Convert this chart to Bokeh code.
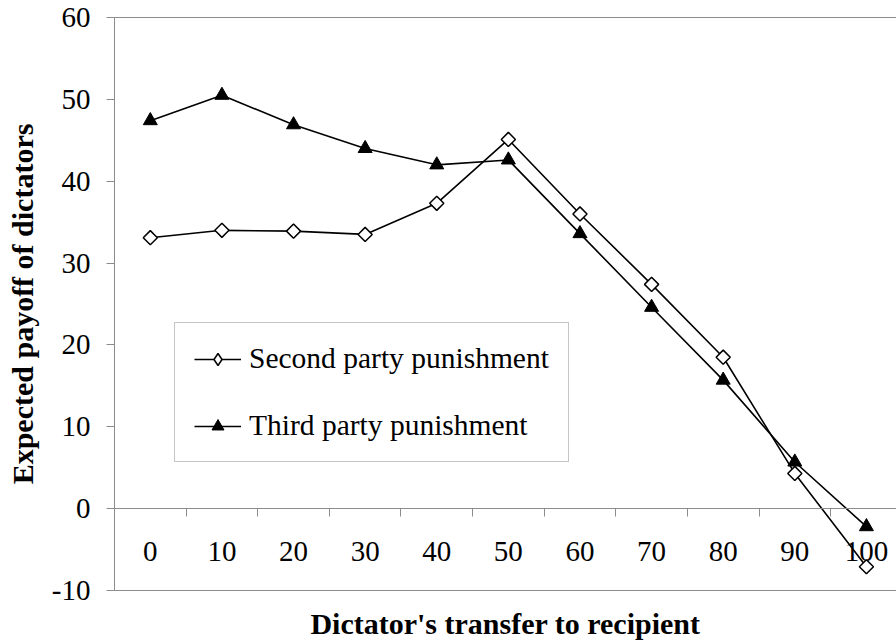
from bokeh.plotting import figure
from bokeh.models import (LinearAxis, FixedTicker, Legend, LegendItem, Range1d)
from bokeh.embed import file_html
from bokeh.resources import INLINE

# ---- data ----
transfer = [0, 10, 20, 30, 40, 50, 60, 70, 80, 90, 100]
second_party = [33.1, 34.0, 33.9, 33.5, 37.3, 45.1, 36.0, 27.4, 18.5, 4.3, -7.1]
third_party = [47.4, 50.5, 46.9, 44.0, 42.0, 42.6, 33.6, 24.6, 15.7, 5.7, -2.2]
y_ticks = [-10, 0, 10, 20, 30, 40, 50, 60]
series_names = ["Second party punishment", "Third party punishment"]
x_title = "Dictator's transfer to recipient"
y_title = "Expected payoff of dictators"

# category boundaries (tick marks between categories)
boundaries = [(a + b) / 2 for a, b in zip(transfer[:-1], transfer[1:])]

FONT = "'Liberation Serif', 'Times New Roman', serif"
GRAY = "#8c8c8c"

p = figure(width=896, height=642, output_backend="svg", toolbar_location=None,
           x_range=Range1d(-5, 104.2), y_range=Range1d(-10, 60),
           x_axis_location=None, y_axis_location=None,
           min_border_left=114, min_border_top=17, min_border_right=0,
           min_border_bottom=50)
p.outline_line_color = None
p.xgrid.visible = False
p.ygrid.visible = False
p.background_fill_color = "white"
p.border_fill_color = "white"

# left axis
yax = LinearAxis(ticker=FixedTicker(ticks=y_ticks))
yax.major_label_overrides = {t: str(t) for t in y_ticks}
yax.axis_line_color = GRAY
yax.major_tick_line_color = GRAY
yax.major_tick_out = 8
yax.major_tick_in = 0
yax.minor_tick_line_color = None
yax.major_label_text_font = FONT
yax.major_label_text_font_size = "29px"
yax.major_label_text_color = "black"
yax.major_label_standoff = 16
yax.axis_label = y_title
yax.axis_label_text_font = FONT
yax.axis_label_text_font_style = "bold"
yax.axis_label_text_font_size = "30px"
yax.axis_label_text_color = "black"
yax.axis_label_standoff = 10
p.add_layout(yax, "left")

# top border line
top = LinearAxis(ticker=FixedTicker(ticks=[]))
top.axis_line_color = GRAY
top.major_tick_out = 0
top.major_tick_in = 0
top.minor_tick_line_color = None
p.add_layout(top, "above")

# bottom border + title
bot = LinearAxis(ticker=FixedTicker(ticks=[]))
bot.axis_line_color = GRAY
bot.major_tick_out = 0
bot.major_tick_in = 0
bot.minor_tick_line_color = None
bot.axis_label = x_title
bot.axis_label_text_font = FONT
bot.axis_label_text_font_style = "bold"
bot.axis_label_text_font_size = "30px"
bot.axis_label_text_color = "black"
bot.axis_label_standoff = 16
p.add_layout(bot, "below")

# zero line: labels at categories, tick marks between categories
zax = LinearAxis(ticker=FixedTicker(ticks=transfer, minor_ticks=boundaries),
                 fixed_location=0)
zax.axis_line_color = GRAY
zax.major_tick_line_color = None
zax.major_tick_out = 0
zax.major_tick_in = 0
zax.minor_tick_line_color = GRAY
zax.minor_tick_out = 8
zax.minor_tick_in = 0
zax.major_label_text_font = FONT
zax.major_label_text_font_size = "29px"
zax.major_label_text_color = "black"
zax.major_label_standoff = 25
p.add_layout(zax, "below")

# series
l1 = p.line(transfer, second_party, line_color="black", line_width=1.6)
d1 = p.scatter(transfer, second_party, marker="diamond", size=13,
               fill_color="white", line_color="black", line_width=1.5)
s1 = p.scatter(transfer, second_party, marker="square", angle=0.785398, size=10,
               fill_color="white", line_color="black", line_width=1.5)
l2 = p.line(transfer, third_party, line_color="black", line_width=1.6)
s2 = p.scatter(transfer, third_party, marker="triangle", size=14,
               fill_color="black", line_color="black", line_width=1)

legend = Legend(items=[LegendItem(label=series_names[0], renderers=[l1, d1]),
                       LegendItem(label=series_names[1], renderers=[l2, s2])],
                location=(60, 128))
legend.label_text_font = FONT
legend.label_text_font_size = "29.5px"
legend.label_text_color = "black"
legend.glyph_width = 47
legend.glyph_height = 30
legend.label_height = 30
legend.label_standoff = 8
legend.spacing = 34
legend.padding = 19
legend.margin = 0
legend.border_line_color = GRAY
legend.border_line_width = 1
legend.background_fill_color = "white"
legend.background_fill_alpha = 1
p.add_layout(legend, "center")

open("out.html", "w").write(file_html(p, INLINE))
